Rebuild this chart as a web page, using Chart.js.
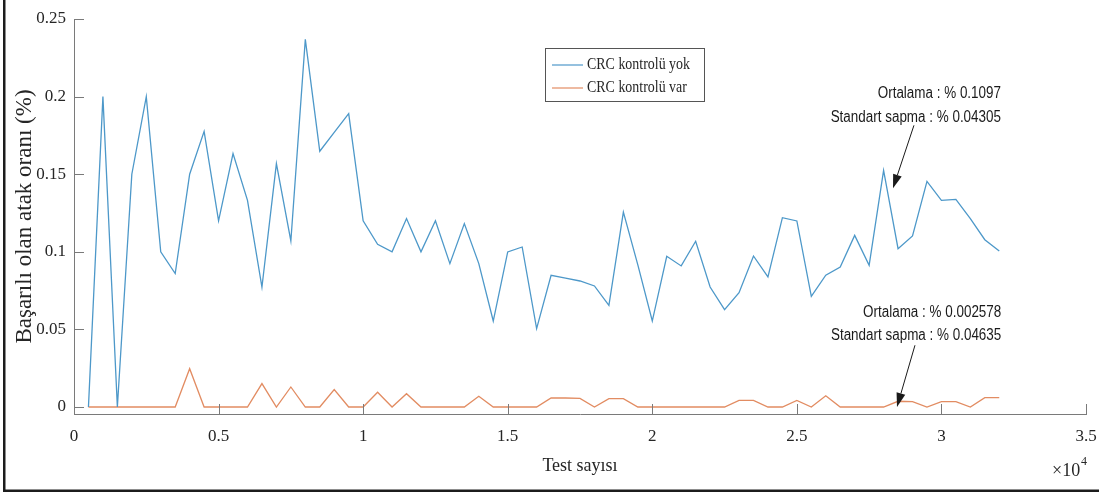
<!DOCTYPE html>
<html><head><meta charset="utf-8">
<script src="https://cdn.jsdelivr.net/npm/chart.js@4.4.1/dist/chart.umd.min.js"></script>
<style>html,body{margin:0;padding:0;background:#fff;}#wrap{width:1099px;height:497px;position:relative;}</style>
</head><body><div id="wrap"><canvas id="c" width="1099" height="497"></canvas></div>
<script>
const testCounts = [500,1000,1500,2000,2500,3000,3500,4000,4500,5000,5500,6000,6500,7000,7500,8000,
  8500,9000,9500,10000,10500,11000,11500,12000,12500,13000,13500,14000,14500,15000,15500,16000,
  16500,17000,17500,18000,18500,19000,19500,20000,20500,21000,21500,22000,22500,23000,23500,24000,
  24500,25000,25500,26000,26500,27000,27500,28000,28500,29000,29500,30000,30500,31000,31500,32000];
const noCrc = [0,0.2,0,0.15,0.2,0.1,0.086,0.15,0.1776,0.12,0.1633,0.1332,0.0773,0.1568,0.107,0.2369,
  0.1648,0.177,0.189,0.12,0.1048,0.1,0.1214,0.1,0.12,0.0924,0.1182,0.0924,0.0554,0.0999,0.1031,0.0505,
  0.0849,0.083,0.0812,0.078,0.0655,0.1256,0.0916,0.0554,0.0971,0.0909,0.1068,0.0773,0.0627,0.0737,0.0973,0.0838,
  0.122,0.1199,0.0713,0.0849,0.0902,0.1106,0.0913,0.1525,0.102,0.1102,0.1454,0.1332,0.1338,0.1214,0.1078,0.1005];
const withCrc = [0,0,0,0,0,0,0,0.0247,0,0,0,0,0.0151,0,0.0129,0,
  0,0.0112,0,0,0.0095,0,0.0086,0,0,0,0,0.0069,0,0,0,0,
  0.0058,0.0058,0.0056,0,0.0054,0.0054,0,0,0,0,0,0,0,0.0043,0.0043,0,
  0,0.0043,0,0.0072,0,0,0,0,0.0037,0.0035,0,0.0035,0.0035,0,0.006,0.006];
const seriesNames = ['CRC kontrolü yok','CRC kontrolü var'];
const xTicks = [0,5000,10000,15000,20000,25000,30000,35000];
const yTicks = [0,0.05,0.1,0.15,0.2,0.25];
const xTitle = 'Test sayısı';
const yTitle = 'Başarılı olan atak oranı (%)';
const noteNoCrc = ['Ortalama : % 0.1097','Standart sapma : % 0.04305'];
const noteWithCrc = ['Ortalama : % 0.002578','Standart sapma : % 0.04635'];

const colors = ['#4d98c9','#e28c62'];
const axisColor = '#7a7a7a';
const textColor = '#262626';
const serif = '"Liberation Serif","Times New Roman",serif';
const sans = '"Liberation Sans",Arial,sans-serif';

// annotation anchors (data coordinates)
const notes = [
  {lines: noteNoCrc, right: 32060, y: [0.2021, 0.1867], from: [29050, 0.1815], to: [28325, 0.1409]},
  {lines: noteWithCrc, right: 32070, y: [0.0608, 0.0462], from: [29085, 0.0398], to: [28463, 0.0]}
];

function arrow(ctx, x1, y1, x2, y2){
  const ang = Math.atan2(y2-y1, x2-x1), L = 14, W = 4.5;
  const bx = x2 - L*Math.cos(ang), by = y2 - L*Math.sin(ang);
  ctx.beginPath(); ctx.moveTo(x1,y1); ctx.lineTo(bx,by); ctx.stroke();
  ctx.beginPath(); ctx.moveTo(x2,y2);
  ctx.lineTo(bx + W*Math.sin(ang), by - W*Math.cos(ang));
  ctx.lineTo(bx - W*Math.sin(ang), by + W*Math.cos(ang));
  ctx.closePath(); ctx.fill();
}

const decor = {
  id: 'decor',
  afterDraw(chart){
    const {ctx, chartArea: a, scales: {x, y}} = chart;
    ctx.save();
    // inward tick marks
    ctx.strokeStyle = axisColor; ctx.lineWidth = 1;
    x.ticks.forEach(t => {
      const px = Math.round(x.getPixelForValue(t.value)) + 0.5;
      ctx.beginPath(); ctx.moveTo(px, a.bottom); ctx.lineTo(px, a.bottom - 10); ctx.stroke();
    });
    y.ticks.forEach(t => {
      const py = Math.round(y.getPixelForValue(t.value)) + 0.5;
      ctx.beginPath(); ctx.moveTo(a.left, py); ctx.lineTo(a.left + 10, py); ctx.stroke();
    });
    // exponent label
    ctx.fillStyle = textColor; ctx.textBaseline = 'middle'; ctx.textAlign = 'left';
    ctx.font = '18px ' + serif;
    ctx.fillText('×10', 1052, 471);
    ctx.font = '12px ' + serif;
    ctx.fillText('4', 1081, 462);
    // legend
    const lx = 545.5, ly = 48.5, lw = 159, lh = 53;
    ctx.fillStyle = '#fff'; ctx.fillRect(lx, ly, lw, lh);
    ctx.strokeStyle = '#555'; ctx.lineWidth = 1; ctx.strokeRect(lx, ly, lw, lh);
    ctx.font = '17px ' + serif; ctx.fillStyle = textColor;
    [65, 88].forEach((ry, i) => {
      ctx.strokeStyle = colors[i]; ctx.lineWidth = 1.2;
      ctx.beginPath(); ctx.moveTo(552, ry); ctx.lineTo(583, ry); ctx.stroke();
      ctx.save(); ctx.translate(587, ry); ctx.scale(0.82, 1);
      ctx.fillText(seriesNames[i], 0, 0); ctx.restore();
    });
    // annotations
    ctx.fillStyle = '#1a1a1a'; ctx.strokeStyle = '#1a1a1a'; ctx.lineWidth = 1;
    ctx.font = '16px ' + sans; ctx.textAlign = 'right';
    notes.forEach(n => {
      const rx = x.getPixelForValue(n.right);
      n.lines.forEach((s, i) => {
        ctx.save(); ctx.translate(rx, y.getPixelForValue(n.y[i])); ctx.scale(0.84, 1);
        ctx.fillText(s, 0, 0); ctx.restore();
      });
      arrow(ctx, x.getPixelForValue(n.from[0]), y.getPixelForValue(n.from[1]),
                 x.getPixelForValue(n.to[0]), y.getPixelForValue(n.to[1]));
    });
    // outer frame (left and bottom)
    ctx.fillStyle = '#1c1c1c';
    ctx.fillRect(3, 0, 2.5, 492);
    ctx.fillRect(3, 489.5, 1096, 2.5);
    ctx.restore();
  }
};

new Chart(document.getElementById('c'), {
  type: 'line',
  data: {
    datasets: [
      {label: seriesNames[0], data: testCounts.map((v, i) => ({x: v, y: noCrc[i]})),
       borderColor: colors[0], borderWidth: 1.3, pointRadius: 0, tension: 0, fill: false},
      {label: seriesNames[1], data: testCounts.map((v, i) => ({x: v, y: withCrc[i]})),
       borderColor: colors[1], borderWidth: 1.3, pointRadius: 0, tension: 0, fill: false}
    ]
  },
  options: {
    responsive: false, animation: false,
    layout: {padding: {top: 19, right: 13, left: 0, bottom: 0}},
    plugins: {legend: {display: false}, tooltip: {enabled: false}},
    scales: {
      x: {
        type: 'linear', min: 0, max: 35000,
        afterBuildTicks: s => { s.ticks = xTicks.map(v => ({value: v})); },
        afterFit: s => { s.height = 83; s.paddingLeft = 0; s.paddingRight = 0; },
        grid: {display: true, drawOnChartArea: false, drawTicks: false},
        border: {display: true, color: axisColor, width: 1},
        ticks: {color: textColor, font: {family: serif, size: 17}, padding: 12, maxRotation: 0,
                callback: v => String(v / 10000)},
        title: {display: true, text: xTitle, color: textColor, font: {family: serif, size: 18},
                padding: {top: 0, bottom: 20}}
      },
      y: {
        type: 'linear', min: -0.0045, max: 0.25,
        afterBuildTicks: s => { s.ticks = yTicks.map(v => ({value: v})); },
        afterFit: s => { s.width = 74; s.paddingTop = 0; s.paddingBottom = 0; },
        grid: {display: true, drawOnChartArea: false, drawTicks: false},
        border: {display: true, color: axisColor, width: 1},
        ticks: {color: textColor, font: {family: serif, size: 17}, padding: 8,
                callback: v => String(v)},
        title: {display: true, text: yTitle, color: textColor, font: {family: serif, size: 23},
                padding: {top: 11, bottom: 0}}
      }
    }
  },
  plugins: [decor]
});
</script></body></html>
